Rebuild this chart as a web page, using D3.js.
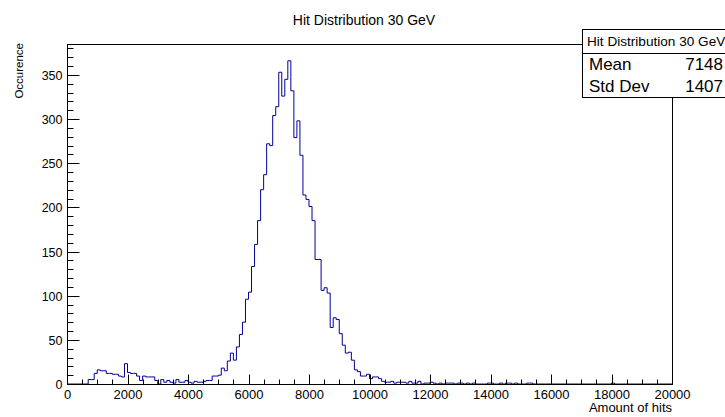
<!DOCTYPE html>
<html>
<head>
<meta charset="utf-8">
<script src="https://cdn.jsdelivr.net/npm/d3@7"></script>
<style>
  html, body { margin: 0; padding: 0; background: #fff; }
  svg { display: block; }
  text { font-family: "Liberation Sans", Arial, Helvetica, sans-serif; fill: #000; }
</style>
</head>
<body>
<svg id="chart" width="725" height="417"></svg>
<script>
// Histogram: 200 bins of width 100 over [0, 20000]
const binLow = 0;
const binWidth = 100;
const counts = [
  // 0 - 1900
  0, 0, 0, 0, 0, 0, 0, 5, 5, 12, 16, 15, 15, 12, 12, 11, 11, 9, 8, 23,
  // 2000 - 3900
  13, 12, 12, 9, 4, 9, 8, 8, 8, 4, 0, 5, 2, 4, 2, 1, 5, 2, 2, 4,
  // 4000 - 5900
  2, 1, 3, 2, 2, 3, 4, 4, 9, 9, 10, 18, 15, 26, 35, 27, 42, 56, 70, 96,
  // 6000 - 7900
  104, 133, 158, 185, 220, 237, 272, 270, 304, 314, 353, 326, 345, 366, 332, 279, 298, 259, 214, 209,
  // 8000 - 9900
  201, 185, 141, 141, 106, 109, 103, 64, 75, 73, 57, 44, 35, 36, 27, 16, 14, 9, 9, 11,
  // 10000 - 11900
  6, 8, 8, 6, 3, 2, 2, 3, 1, 2, 2, 2, 1, 3, 1, 1, 3, 0, 1, 1,
  // 12000 - 13900
  2, 1, 0, 1, 0, 1, 1, 1, 0, 1, 1, 0, 1, 0, 1, 0, 0, 0, 0, 1,
  // 14000 - 15900
  1, 0, 0, 1, 0, 1, 1, 0, 1, 0, 0, 0, 1, 1, 0, 0, 0, 0, 0, 0,
  // 16000 - 17900
  0, 0, 0, 0, 0, 0, 0, 0, 0, 0, 0, 0, 0, 0, 0, 0, 0, 0, 0, 0,
  // 18000 - 19900
  1, 0, 0, 0, 0, 0, 0, 0, 0, 0, 0, 0, 0, 0, 0, 0, 0, 0, 0, 0
];

const xTickValues = [0, 2000, 4000, 6000, 8000, 10000, 12000, 14000, 16000, 18000, 20000];
const yTickValues = [0, 50, 100, 150, 200, 250, 300, 350];

const titleText = "Hit Distribution 30 GeV";
const xTitle = "Amount of hits";
const yTitle = "Occurence";
const statNames = ["Mean", "Std Dev"];
const statValues = ["7148", "1407"];

const svg = d3.select("#chart");
const W = 725, H = 417;
const frame = { left: 67, right: 672, top: 44, bottom: 384 };

const x = d3.scaleLinear().domain([0, 20000]).range([frame.left, frame.right]);
const y = d3.scaleLinear().domain([0, 385]).range([frame.bottom, frame.top]);

svg.append("rect").attr("width", W).attr("height", H).attr("fill", "#fff");

// Histogram outline as a step path
const pts = [];
pts.push([x(binLow), y(0)]);
counts.forEach((c, i) => {
  const x0 = x(binLow + i * binWidth), x1 = x(binLow + (i + 1) * binWidth);
  pts.push([x0, y(c)]);
  pts.push([x1, y(c)]);
});
pts.push([x(binLow + counts.length * binWidth), y(0)]);

svg.append("path")
  .attr("d", d3.line()(pts))
  .attr("fill", "none")
  .attr("stroke", "#000099")
  .attr("stroke-width", 1);

// Frame
svg.append("rect")
  .attr("x", frame.left + 0.5).attr("y", frame.top + 0.5)
  .attr("width", frame.right - frame.left).attr("height", frame.bottom - frame.top)
  .attr("fill", "none").attr("stroke", "#000").attr("stroke-width", 1);

// X axis (ticks pointing into the frame)
const xMinor = d3.range(0, 20001, 500);
const xAxisG = svg.append("g").attr("transform", `translate(0.5,${frame.bottom + 0.5})`);
xAxisG.selectAll("line.minor").data(xMinor).join("line")
  .attr("x1", d => Math.round(x(d))).attr("x2", d => Math.round(x(d)))
  .attr("y1", 0).attr("y2", d => xTickValues.includes(d) ? -10 : -5)
  .attr("stroke", "#000");
xAxisG.selectAll("text").data(xTickValues).join("text")
  .attr("x", d => x(d)).attr("y", 14)
  .attr("text-anchor", "middle")
  .attr("font-size", 13)
  .text(d => d);

// Y axis
const yMinor = d3.range(0, 381, 10);
const yAxisG = svg.append("g").attr("transform", `translate(${frame.left + 0.5},0.5)`);
yAxisG.selectAll("line").data(yMinor).join("line")
  .attr("y1", d => Math.round(y(d))).attr("y2", d => Math.round(y(d)))
  .attr("x1", 0).attr("x2", d => yTickValues.includes(d) ? 12 : 6)
  .attr("stroke", "#000");
yAxisG.selectAll("text").data(yTickValues).join("text")
  .attr("x", -5).attr("y", d => y(d) + 4.5)
  .attr("text-anchor", "end")
  .attr("font-size", 12.5)
  .text(d => d);

// Titles
svg.append("text").attr("x", 364).attr("y", 25)
  .attr("text-anchor", "middle").attr("font-size", 14)
  .text(titleText);
svg.append("text").attr("x", frame.right).attr("y", 412)
  .attr("text-anchor", "end").attr("font-size", 13)
  .text(xTitle);
svg.append("text")
  .attr("transform", `translate(23,${frame.top - 1}) rotate(-90)`)
  .attr("text-anchor", "end").attr("font-size", 11.5)
  .text(yTitle);

// Statistics box
const box = { x: 582, y: 29, w: 150, h: 68, split: 53 };
svg.append("rect")
  .attr("x", box.x + 0.5).attr("y", box.y + 0.5)
  .attr("width", box.w).attr("height", box.h)
  .attr("fill", "#fff").attr("stroke", "#000");
svg.append("line")
  .attr("x1", box.x).attr("x2", box.x + box.w)
  .attr("y1", box.split + 0.5).attr("y2", box.split + 0.5)
  .attr("stroke", "#000");
svg.append("text").attr("x", 587).attr("y", 46)
  .attr("font-size", 13.6).text(titleText);
statNames.forEach((n, i) => {
  const by = 70 + i * 22;
  svg.append("text").attr("x", 589).attr("y", by).attr("font-size", 17).text(n);
  svg.append("text").attr("x", 723).attr("y", by).attr("text-anchor", "end")
    .attr("font-size", 17).text(statValues[i]);
});
</script>
</body>
</html>
